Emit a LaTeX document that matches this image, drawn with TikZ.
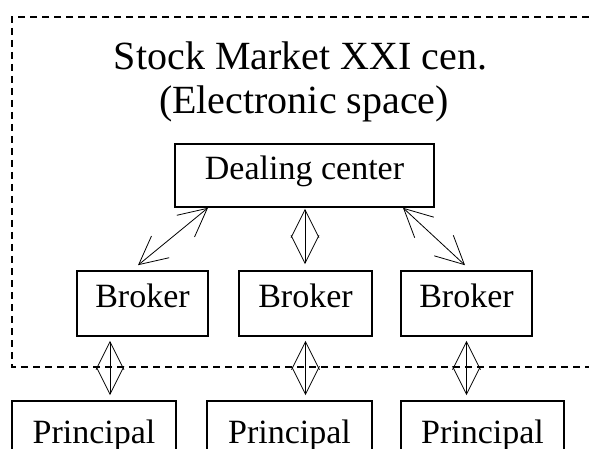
\documentclass[tikz,border=0pt]{standalone}
\usepackage{fontspec}
\setmainfont{Liberation Serif}
\usetikzlibrary{arrows.meta}
\begin{document}
\begin{tikzpicture}[x=1pt,y=-1pt,
  box/.style={draw, line width=1.6pt, inner sep=0pt,
    font=\fontsize{34}{40}\selectfont, text height=22pt, text depth=14pt},
  titletext/.style={inner sep=0pt, anchor=base, font=\fontsize{40}{44}\selectfont},
  link/.style={line width=0.8pt,
    {Straight Barb[length=28pt,width=28pt]}-{Straight Barb[length=28pt,width=28pt]}},
  frame/.style={line width=1.2pt, dash pattern=on 7pt off 5pt}]
\useasboundingbox (0,0) rectangle (589,449);
\clip (0,0) rectangle (589,449);
\fill[white] (0,0) rectangle (589,449);

% dashed frame
\draw[frame] (589,17) -- (12,17) -- (12,367) -- (589,367);

% title
\node[titletext] (t1) at (300.5,70) {Stock Market XXI cen.};
\node[titletext] (t2) at (304,114) {(Electronic space)};

% boxes
\node[box, minimum width=259pt, minimum height=63pt] (D) at (304.5,175.5) {Dealing center};
\node[box, minimum width=131pt, minimum height=65pt] (B1) at (142.5,303.5) {Broker};
\node[box, minimum width=133pt, minimum height=65pt] (B2) at (305.5,303.5) {Broker};
\node[box, minimum width=131pt, minimum height=65pt] (B3) at (466.5,303.5) {Broker};
\node[box, minimum width=164pt, minimum height=76pt] (P1) at (94,439) {Principal};
\node[box, minimum width=165pt, minimum height=76pt] (P2) at (289.5,439) {Principal};
\node[box, minimum width=163pt, minimum height=76pt] (P3) at (482.5,439) {Principal};

% connectors
\draw[link] ([xshift=-96.5pt]D.south) -- ([xshift=-4.5pt,yshift=5pt]B1.north);
\draw[link] ([xshift=0.5pt,yshift=-1pt]D.south) -- ([xshift=-0.5pt,yshift=6pt]B2.north);
\draw[link] ([xshift=98.5pt]D.south) -- ([xshift=-1.5pt,yshift=5pt]B3.north);
\draw[link] ([xshift=-32.5pt,yshift=-4pt]B1.south) -- ([xshift=16pt,yshift=5pt]P1.north);
\draw[link] ([yshift=-4pt]B2.south) -- ([xshift=16pt,yshift=5pt]P2.north);
\draw[link] ([yshift=-4pt]B3.south) -- ([xshift=-16pt,yshift=5pt]P3.north);
\end{tikzpicture}
\end{document}
